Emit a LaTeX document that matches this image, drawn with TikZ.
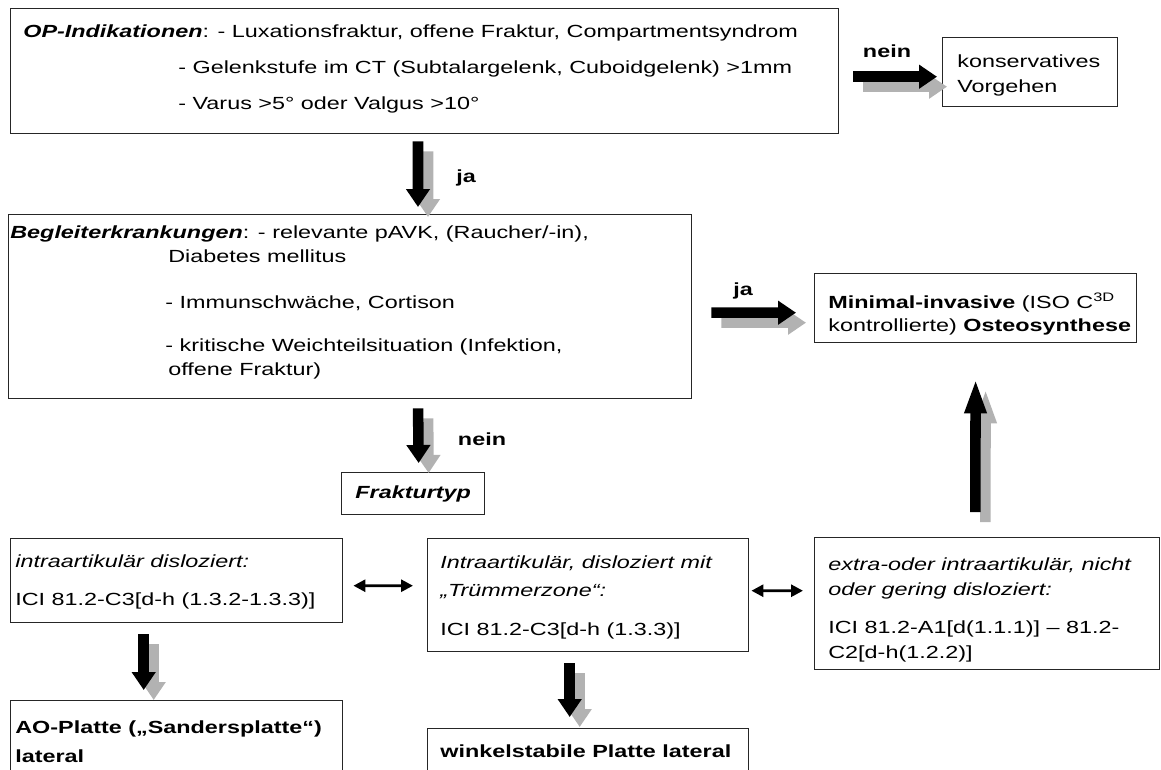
\documentclass[tikz,border=0pt]{standalone}
\usepackage{fontspec}
\setmainfont[FakeStretch=1.33]{Liberation Sans}
\usetikzlibrary{arrows.meta}

% thick arrow with a grey shadow below right of it
\newcommand\fatarrow[3][]{%
  \draw[fat, gray!60, #1, transform canvas={shift={(0.2,-0.2)}}] #2 -- #3;
  \draw[fat, #1] #2 -- #3;}

\begin{document}
\begin{tikzpicture}[
    box/.style={draw=black!85, line width=0.8pt, anchor=north west, inner sep=0pt},
    txt/.style={anchor=base west, inner sep=0pt, font=\fontsize{10}{12}\selectfont},
    lbl/.style={anchor=base, inner sep=0pt, font=\fontsize{10}{12}\selectfont\bfseries},
    fat/.style={line width=6pt, -{Triangle[length=0.36cm,width=0.46cm]}},
    link/.style={line width=1.6pt, {Triangle[length=0.24cm,width=0.24cm]}-{Triangle[length=0.24cm,width=0.24cm]}}
]
    \useasboundingbox (0,0) rectangle (23.22,-15.38);
    \clip (0,0) rectangle (23.22,-15.38);

    % boxes
    \node[box, minimum width=16.56cm, minimum height=2.50cm] (op) at (0.20,-0.16) {};
    \node[box, minimum width=3.50cm, minimum height=1.38cm] (kons) at (18.84,-0.74) {};
    \node[box, minimum width=13.66cm, minimum height=3.68cm] (begl) at (0.16,-4.28) {};
    \node[box, minimum width=6.44cm, minimum height=1.38cm] (mini) at (16.28,-5.46) {};
    \node[box, minimum width=2.86cm, minimum height=0.84cm,
          font=\fontsize{10}{12}\selectfont\bfseries\itshape] (frak) at (6.82,-9.44) {Frakturtyp};
    \node[box, minimum width=6.64cm, minimum height=1.68cm] (intra) at (0.20,-10.76) {};
    \node[box, minimum width=6.42cm, minimum height=2.26cm] (truem) at (8.54,-10.76) {};
    \node[box, minimum width=6.90cm, minimum height=2.64cm] (extra) at (16.28,-10.74) {};
    \node[box, minimum width=6.64cm, minimum height=1.60cm] (ao) at (0.20,-14.00) {};
    \node[box, minimum width=6.42cm, minimum height=1.00cm] (winkel) at (8.54,-14.56) {};

    % texts
    \node[txt] (op1) at (0.46,-0.74) {\textbf{\textit{OP-Indikationen}}: - Luxationsfraktur, offene Fraktur, Compartmentsyndrom};
    \node[txt] (op2) at (3.56,-1.46) {- Gelenkstufe im CT (Subtalargelenk, Cuboidgelenk) >1mm};
    \node[txt] (op3) at (3.56,-2.18) {- Varus >5° oder Valgus >10°};
    \node[txt] (kons1) at (19.14,-1.34) {konservatives};
    \node[txt] (kons2) at (19.14,-1.84) {Vorgehen};
    \node[txt] (begl1) at (0.20,-4.76) {\textbf{\textit{Begleiterkrankungen}}: - relevante pAVK, (Raucher/-in),};
    \node[txt] (begl2) at (3.36,-5.24) {Diabetes mellitus};
    \node[txt] (begl3) at (3.30,-6.16) {- Immunschwäche, Cortison};
    \node[txt] (begl4) at (3.30,-7.02) {- kritische Weichteilsituation (Infektion,};
    \node[txt] (begl5) at (3.36,-7.50) {offene Fraktur)};
    \node[txt] (mini1) at (16.56,-6.16) {\textbf{Minimal-invasive} (ISO C\textsuperscript{3D}};
    \node[txt] (mini2) at (16.56,-6.62) {kontrollierte) \textbf{Osteosynthese}};
    \node[txt] (intra1) at (0.30,-11.34) {\textit{intraartikulär disloziert:}};
    \node[txt] (intra2) at (0.30,-12.10) {ICI 81.2-C3[d-h (1.3.2-1.3.3)]};
    \node[txt] (truem1) at (8.80,-11.36) {\textit{Intraartikulär, disloziert mit}};
    \node[txt] (truem2) at (8.80,-11.92) {\textit{„Trümmerzone“:}};
    \node[txt] (truem3) at (8.80,-12.70) {ICI 81.2-C3[d-h (1.3.3)]};
    \node[txt] (extra1) at (16.56,-11.40) {\textit{extra-oder intraartikulär, nicht}};
    \node[txt] (extra2) at (16.56,-11.90) {\textit{oder gering disloziert:}};
    \node[txt] (extra3) at (16.56,-12.66) {ICI 81.2-A1[d(1.1.1)] – 81.2-};
    \node[txt] (extra4) at (16.56,-13.16) {C2[d-h(1.2.2)]};
    \node[txt, font=\fontsize{10}{12}\selectfont\bfseries] (ao1) at (0.30,-14.66) {AO-Platte („Sandersplatte“)};
    \node[txt, font=\fontsize{10}{12}\selectfont\bfseries] (ao2) at (0.30,-15.24) {lateral};
    \node[txt, font=\fontsize{10}{12}\selectfont\bfseries] (winkel1) at (8.80,-15.14) {winkelstabile Platte lateral};

    % labels of the arrows
    \node[lbl] (nein1) at (17.74,-1.14) {nein};
    \node[lbl] (ja1) at (9.32,-3.64) {ja};
    \node[lbl] (ja2) at (14.86,-5.90) {ja};
    \node[lbl] (nein2) at (9.64,-8.90) {nein};

    % arrows
    \fatarrow[shorten <=0.28cm, shorten >=0.10cm]{([yshift=-0.11cm]op.east)}{([yshift=-0.09cm]kons.west)}
    \fatarrow[shorten <=0.14cm, shorten >=0.14cm]{([xshift=8.16cm]op.south west)}{([xshift=8.20cm]begl.north west)}
    \fatarrow[shorten <=0.38cm, shorten >=0.36cm]{([yshift=-0.12cm]begl.east)}{([yshift=-0.09cm]mini.west)}
    \fatarrow[shorten <=0.18cm, shorten >=0.18cm]{([xshift=8.20cm]begl.south west)}{([xshift=0.11cm]frak.north)}
    \fatarrow[shorten <=0.22cm, shorten >=0.20cm]{([xshift=-0.66cm]intra.south)}{([xshift=-0.66cm]ao.north)}
    \fatarrow[shorten <=0.22cm, shorten >=0.22cm]{([xshift=-0.37cm]truem.south)}{([xshift=-0.37cm]winkel.north)}
    \fatarrow[shorten <=0.50cm, shorten >=0.70cm, -{Triangle[length=0.70cm,width=0.40cm]}]{([xshift=-0.24cm]extra.north)}{(mini.south)}

    \draw[link, shorten <=0.20cm, shorten >=0.28cm] ([yshift=-0.10cm]intra.east) -- ([yshift=0.19cm]truem.west);
    \draw[link, shorten <=0.04cm, shorten >=0.22cm] ([yshift=0.09cm]truem.east) -- ([yshift=0.26cm]extra.west);
\end{tikzpicture}
\end{document}
